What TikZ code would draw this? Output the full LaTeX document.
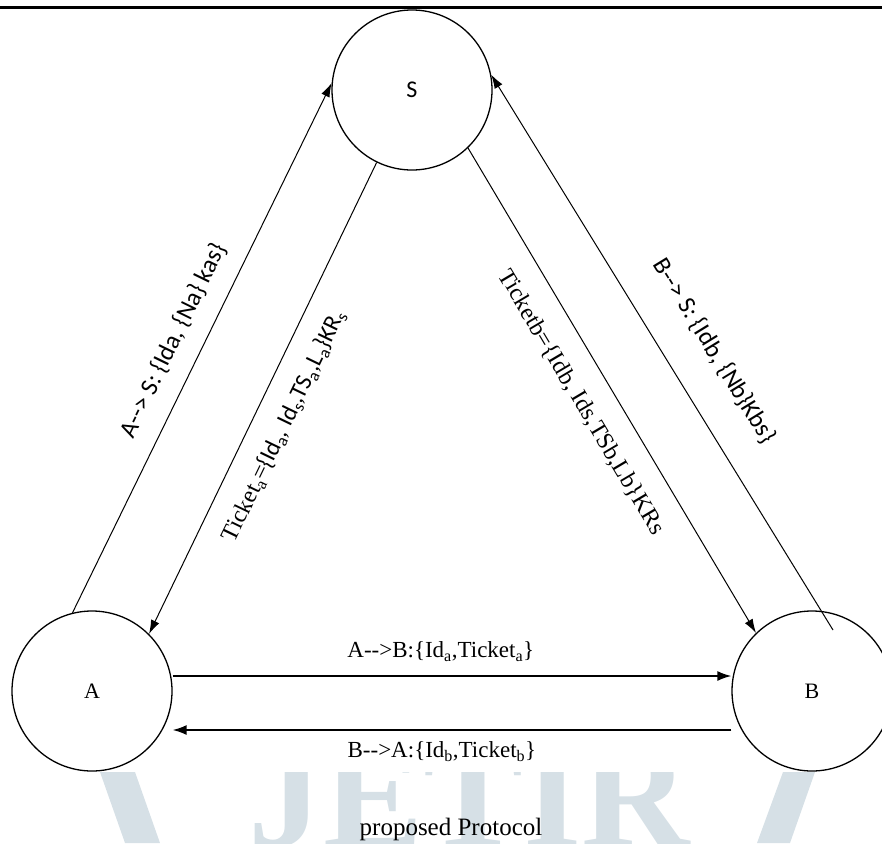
\documentclass[tikz,border=0pt]{standalone}
\usepackage{fontspec}
\setmainfont{Liberation Serif}
\newfontfamily\calfont{Carlito}
\usetikzlibrary{arrows.meta}
\definecolor{wm}{RGB}{214,224,230}
\newcommand\sbs[1]{\textsubscript{#1}}
\tikzset{
  circ/.style={circle, draw, line width=1.3pt, minimum size=160pt, inner sep=0pt,
    font=\fontsize{22}{24}\selectfont},
  arr/.style={line width=1pt, -{Latex[length=14pt,width=9pt]}},
  harr/.style={line width=1.6pt, -{Latex[length=14pt,width=10pt]}},
  lblsans/.style={font=\calfont\fontsize{25}{28}\selectfont, sloped, inner sep=0pt},
  lblserif/.style={font=\fontsize{24}{27}\selectfont, sloped, inner sep=0pt},
  hlbl/.style={font=\fontsize{23}{26}\selectfont, inner sep=0pt},
}
\begin{document}
\begin{tikzpicture}[x=1pt,y=-1pt]
\useasboundingbox (0,0) rectangle (882,843);
% watermark (only its lower part shows below the figure)
\begin{scope}
  \clip (0,772) rectangle (882,843);
  \fill[wm] (100,772) -- (135,772) -- (160,843) -- (125,843) -- cycle;
  \fill[wm] (783,772) -- (815,772) -- (790,843) -- (757,843) -- cycle;
  \node[anchor=base west, text=wm, font=\bfseries\fontsize{150}{150}\selectfont,
        inner sep=0pt] (wmtext) at (248,846) {JETIR};
\end{scope}
% header rule
\draw[line width=3.3pt] (0,7.7) -- (882,7.7);
% nodes
\node[circ, font=\calfont\fontsize{24}{26}\selectfont] (S) at (412,90) {S};
\node[circ] (A) at (92,691) {A};
\node[circ] (B) at (812,691) {B};
\coordinate (Bin) at (833,630);
% connectors
\draw[arr] (A.104) -- node[lblsans, pos=0.49, above=18pt] (l1)
  {A-\kern0pt-> S: \{Ida, \{Na\} kas\}} (S.175);
\draw[arr] (S.244) -- node[pos=0.53, below=20pt, sloped, inner sep=0pt,
  font=\fontsize{24}{27}\selectfont] (l2)
  {Ticket\sbs{a}={\calfont\{Id\sbs{a}, Id\sbs{s},TS\sbs{a},L\sbs{a}\}KR\sbs{s}}} (A.45);
\draw[arr] (S.-46) -- node[lblserif, pos=0.49, below=22pt] (l3)
  {Ticketb=\{Idb, Ids,TSb,Lb\}KRs} (B.134);
\draw[arr] (Bin) -- node[lblsans, pos=0.46, above=34pt] (l4)
  {B-\kern0pt-> S: \{Idb, \{Nb\}Kbs\}} (S.11);
\draw[harr] ([yshift=15pt]A.east) -- node[hlbl, pos=0.48, above=14pt] (l5)
  {A-\kern0pt->B:\{Id\sbs{a},Ticket\sbs{a}\}} ([yshift=15pt]B.west);
\draw[harr] ([yshift=-39pt]B.west) -- node[hlbl, pos=0.518, below=11pt] (l6)
  {B-\kern0pt->A:\{Id\sbs{b},Ticket\sbs{b}\}} ([yshift=-39pt]A.east);
% caption
\node[anchor=base, font=\fontsize{25}{28}\selectfont, inner sep=0pt] (cap) at (451,835)
  {proposed Protocol};
\end{tikzpicture}
\end{document}
